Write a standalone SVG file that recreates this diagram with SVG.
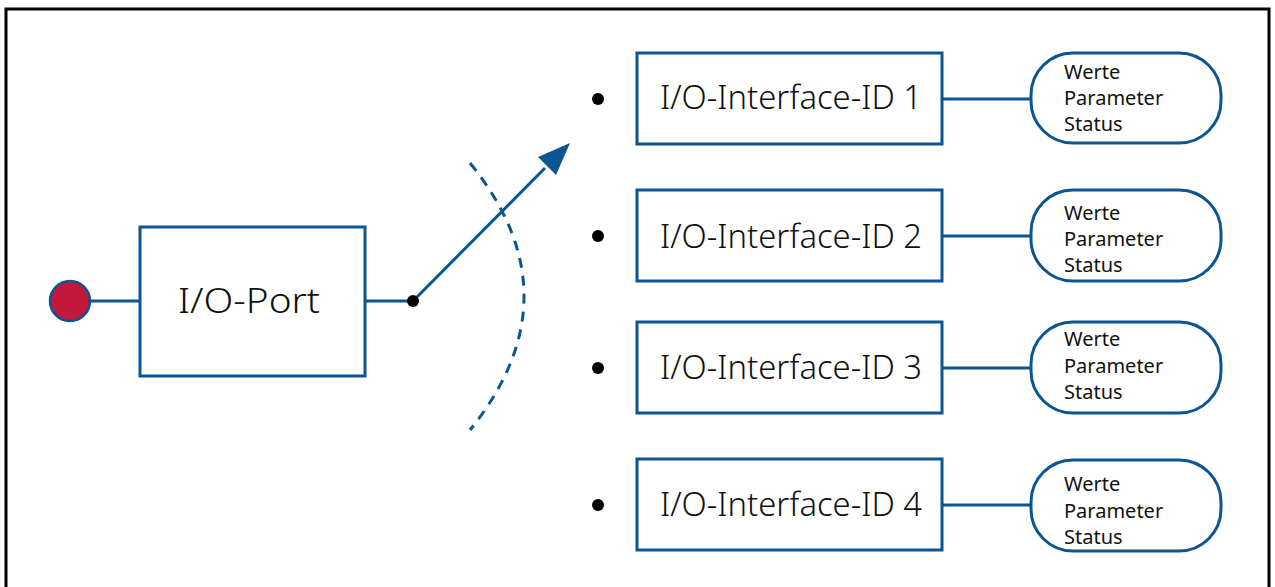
<svg xmlns="http://www.w3.org/2000/svg" width="1275" height="587" viewBox="0 0 1275 587">
<style>
.box{fill:#fff;stroke:#0a5592;stroke-width:3}
.pill{fill:#fff;stroke:#0a5592;stroke-width:3}
.ln{stroke:#0a5592;stroke-width:3;fill:none}
.t1{font-family:"Noto Sans","Liberation Sans",sans-serif;font-size:33px;fill:#111;font-weight:300}
.t2{font-family:"Noto Sans","Liberation Sans",sans-serif;font-size:20px;fill:#111}
.bul{fill:#000}
</style>
<rect x="6" y="9" width="1263" height="600" fill="none" stroke="#000" stroke-width="3"/>
<g id="connectors">
<line class="ln" x1="90" y1="301" x2="140" y2="301"/>
<line class="ln" x1="365" y1="301" x2="413" y2="301"/>
<line x1="413" y1="301" x2="545" y2="168" stroke="#0a5592" stroke-width="3"/>
<path d="M570,143 L556,175 L538,157 z" fill="#0a5592"/>
<path d="M470,163 Q578,296 470,430" class="ln" stroke-dasharray="10,8" stroke-width="2.5"/>
<line class="ln" x1="942" y1="99" x2="1031" y2="99"/>
<line class="ln" x1="942" y1="236" x2="1031" y2="236"/>
<line class="ln" x1="942" y1="368" x2="1031" y2="368"/>
<line class="ln" x1="942" y1="505" x2="1031" y2="505"/>
</g>
<g id="source"><circle cx="70" cy="301" r="20" fill="#c2183c" stroke="#0a5592" stroke-width="2.5"/></g>
<g id="switch"><circle cx="413" cy="301" r="6" fill="#000"/></g>
<g id="io-port">
<rect class="box" x="140" y="227" width="225" height="149"/>
<text class="t1" x="178" y="313" style="font-size:35px" textLength="142" lengthAdjust="spacingAndGlyphs">I/O-Port</text>
</g>
<g id="if1">
<circle class="bul" cx="598" cy="99" r="6"/>
<rect class="box" x="637" y="53" width="305" height="91"/>
<text class="t1" x="660" y="109" textLength="262" lengthAdjust="spacingAndGlyphs">I/O-Interface-ID 1</text>
</g>
<g id="if2">
<circle class="bul" cx="598" cy="236" r="6"/>
<rect class="box" x="637" y="190" width="305" height="91"/>
<text class="t1" x="660" y="248" textLength="262" lengthAdjust="spacingAndGlyphs">I/O-Interface-ID 2</text>
</g>
<g id="if3">
<circle class="bul" cx="598" cy="368" r="6"/>
<rect class="box" x="637" y="322" width="305" height="91"/>
<text class="t1" x="660" y="379" textLength="262" lengthAdjust="spacingAndGlyphs">I/O-Interface-ID 3</text>
</g>
<g id="if4">
<circle class="bul" cx="598" cy="505" r="6"/>
<rect class="box" x="637" y="459" width="305" height="91"/>
<text class="t1" x="660" y="516" textLength="262" lengthAdjust="spacingAndGlyphs">I/O-Interface-ID 4</text>
</g>
<g id="d1">
<rect class="pill" x="1031" y="53" width="190" height="90" rx="42"/>
<text class="t2" x="1064" y="79">Werte</text><text class="t2" x="1064" y="105">Parameter</text><text class="t2" x="1064" y="131">Status</text>
</g>
<g id="d2">
<rect class="pill" x="1031" y="190" width="190" height="91" rx="42"/>
<text class="t2" x="1064" y="220">Werte</text><text class="t2" x="1064" y="246">Parameter</text><text class="t2" x="1064" y="272">Status</text>
</g>
<g id="d3">
<rect class="pill" x="1031" y="322" width="190" height="91" rx="42"/>
<text class="t2" x="1064" y="346">Werte</text><text class="t2" x="1064" y="373">Parameter</text><text class="t2" x="1064" y="399">Status</text>
</g>
<g id="d4">
<rect class="pill" x="1031" y="460" width="190" height="91" rx="42"/>
<text class="t2" x="1064" y="491">Werte</text><text class="t2" x="1064" y="518">Parameter</text><text class="t2" x="1064" y="544">Status</text>
</g>
</svg>
